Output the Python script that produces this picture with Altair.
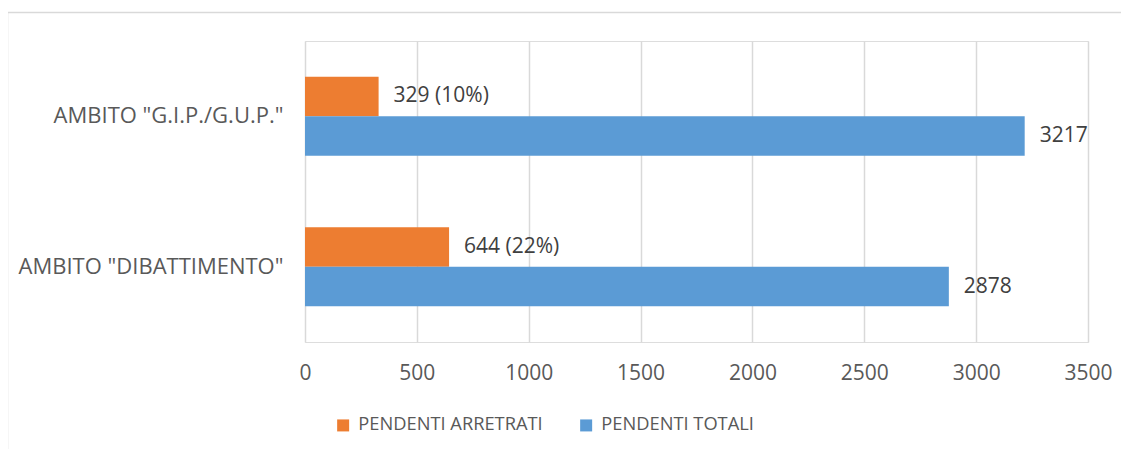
import altair as alt
import pandas as pd

categories = ['AMBITO "G.I.P./G.U.P."', 'AMBITO "DIBATTIMENTO"']
series = ["PENDENTI ARRETRATI", "PENDENTI TOTALI"]
arretrati = [329, 644]
totali = [3217, 2878]
arretrati_labels = ["329 (10%)", "644 (22%)"]
totali_labels = ["3217", "2878"]
x_ticks = [0, 500, 1000, 1500, 2000, 2500, 3000, 3500]
colors = ["#ED7D31", "#5B9BD5"]

rows = []
for i, c in enumerate(categories):
    rows.append({"cat": c, "serie": series[0], "val": arretrati[i], "lab": arretrati_labels[i]})
    rows.append({"cat": c, "serie": series[1], "val": totali[i], "lab": totali_labels[i]})
df = pd.DataFrame(rows)

FONT = "Open Sans"
W, H = 783, 301

y_enc = alt.Y("cat:N", sort=categories, title=None,
              scale=alt.Scale(paddingInner=0, paddingOuter=0),
              axis=alt.Axis(domain=False, ticks=False, labelPadding=22, labelFontSize=22,
                            labelColor="#595959", labelFont=FONT, labelLimit=400))
yoff_enc = alt.YOffset("serie:N", sort=series,
                       scale=alt.Scale(domain=series, paddingInner=0, paddingOuter=0.905))
x_enc = alt.X("val:Q", title=None,
              scale=alt.Scale(domain=[0, 3500], nice=False),
              axis=alt.Axis(values=x_ticks, format="d", domain=False, ticks=False, grid=True,
                            gridColor="#d9d9d9", gridWidth=1.5, labelPadding=20, labelFlush=False,
                            labelFontSize=21, labelColor="#595959", labelFont=FONT))
color_enc = alt.Color("serie:N", sort=series,
                      scale=alt.Scale(domain=series, range=colors),
                      legend=alt.Legend(title=None, orient="none", direction="horizontal",
                                        legendX=29, legendY=375, symbolType="square",
                                        symbolSize=144, symbolStrokeWidth=0, labelLimit=400,
                                        labelFontSize=18.3, labelColor="#595959", labelFont=FONT,
                                        columnPadding=34, labelOffset=6))

bars = alt.Chart(df).mark_bar().encode(x=x_enc, y=y_enc, yOffset=yoff_enc, color=color_enc)

texts = alt.Chart(df).mark_text(align="left", baseline="middle", dx=15, fontSize=21,
                                font=FONT, color="#404040").encode(
    x=alt.X("val:Q"), y=alt.Y("cat:N", sort=categories), yOffset=yoff_enc, text="lab:N")

frame = alt.Chart(pd.DataFrame({"k": [0]})).mark_rect(
    fill=None, stroke="#d9d9d9", strokeWidth=1.5, clip=False).encode(
    x=alt.value(-297.5), x2=alt.value(W + 80), y=alt.value(-28.5), y2=alt.value(H + 150))

chart = alt.layer(frame, bars, texts).properties(
    width=W, height=H, autosize="none",
    padding={"left": 297, "top": 33, "right": 33, "bottom": 107},
).configure_view(stroke=None).configure(background="white")

chart.save("out.html", embed_options={"renderer": "svg", "actions": False})
